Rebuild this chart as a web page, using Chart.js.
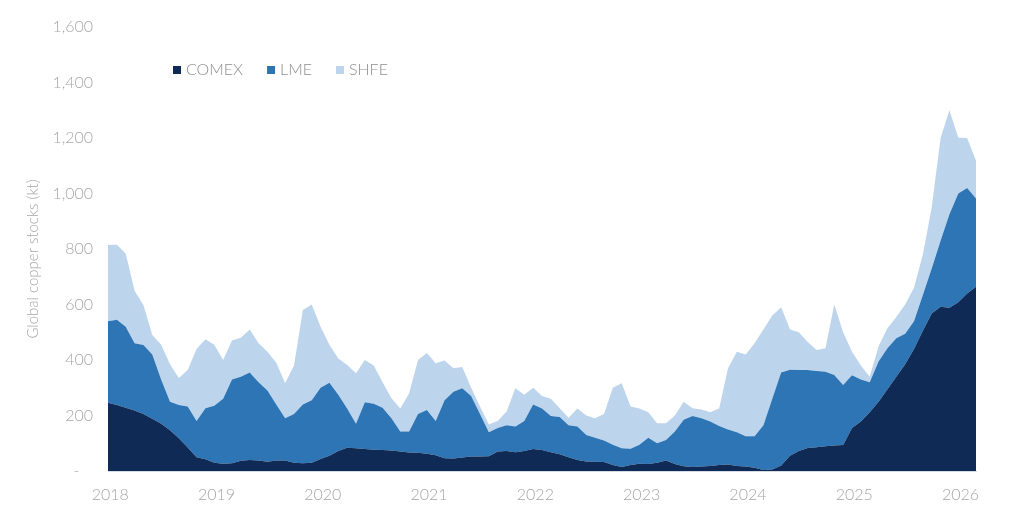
<!DOCTYPE html>
<html><head><meta charset="utf-8">
<script src="https://cdn.jsdelivr.net/npm/chart.js@4.4.1/dist/chart.umd.min.js"></script>
<style>html,body{margin:0;padding:0;background:#fff;} #wrap{width:1024px;height:530px;position:relative;}</style>
</head><body><div id="wrap"><canvas id="c"></canvas></div>
<script>
// Global copper exchange stocks (kt), monthly observations
const seriesNames = ['COMEX', 'LME', 'SHFE'];
const yearLabels = ['2018', '2019', '2020', '2021', '2022', '2023', '2024', '2025', '2026'];
const yAxisTitle = 'Global copper stocks (kt)';
const firstMonth = -0.25; // first observation, in months after Jan 2018

const comex = [246,238,228,218,205,188,170,147,118,85,50,42,30,26,28,37,40,38,33,38,
  38,30,28,30,43,55,72,84,82,79,77,76,74,70,67,66,62,57,46,45,
  49,52,52,53,70,72,68,72,79,76,68,60,50,40,34,33,32,22,14,22,
  26,25,30,38,25,17,14,16,18,22,23,18,16,12,4,5,20,55,72,83,
  86,89,92,94,155,178,212,250,295,340,385,440,505,568,592,588,608,640,664];
const lme = [294,307,292,242,249,232,160,103,120,147,130,184,205,234,302,303,315,282,257,202,
  152,175,212,225,257,263,203,141,88,169,165,152,116,72,75,139,158,123,209,241,
  249,218,153,87,85,93,92,108,161,149,130,135,115,120,96,87,78,73,68,58,
  69,95,70,74,117,168,184,174,160,140,127,122,109,113,161,255,335,310,292,281,
  274,269,254,216,190,152,108,145,147,138,110,100,129,162,238,337,392,380,318];
const shfe = [274,270,264,190,144,70,125,135,97,132,260,249,220,140,140,140,155,140,140,150,
  126,175,340,345,220,137,130,157,182,152,138,92,72,83,138,195,205,208,143,84,
  77,30,27,28,25,49,138,95,60,45,62,31,27,65,70,70,95,205,234,152,
  130,92,72,60,58,65,28,32,34,63,220,290,295,335,345,300,235,145,136,101,
  76,84,254,190,85,50,20,55,72,77,105,120,146,220,370,375,201,180,136];

const colors = ['#0f2b55', '#2e75b6', '#bdd4ed'];
const seriesData = [comex, lme, shfe];

const textGray = '#a6a6a6';
const fontFamily = 'Lato, "Open Sans", "Noto Sans", sans-serif';

const datasets = seriesData.map((arr, i) => ({
  label: seriesNames[i],
  data: arr.map((v, j) => ({ x: firstMonth + j, y: v })),
  backgroundColor: colors[i],
  borderColor: colors[i],
  borderWidth: 0,
  pointRadius: 0,
  tension: 0,
  fill: i === 0 ? 'origin' : '-1'
}));

const legendPlugin = {
  id: 'customLegend',
  afterDraw(chart) {
    const ctx = chart.ctx;
    ctx.save();
    ctx.font = '300 16px ' + fontFamily;
    ctx.textBaseline = 'middle';
    let x = 173; const y = 70;
    seriesNames.forEach((name, i) => {
      ctx.fillStyle = colors[i];
      ctx.fillRect(x, y - 4, 8, 8);
      ctx.fillStyle = '#8e8e8e';
      ctx.fillText(name, x + 13, y);
      x += 13 + ctx.measureText(name).width + 24;
    });
    // y-axis title
    ctx.translate(33, (chart.chartArea.top + chart.chartArea.bottom) / 2 + 10);
    ctx.rotate(-Math.PI / 2);
    ctx.font = '300 15px ' + fontFamily;
    ctx.fillStyle = textGray;
    ctx.textAlign = 'center';
    ctx.fillText(yAxisTitle, 0, 0);
    ctx.restore();
  }
};

new Chart(document.getElementById('c'), {
  type: 'line',
  data: { datasets },
  options: {
    responsive: true,
    maintainAspectRatio: false,
    animation: false,
    devicePixelRatio: 1,
    layout: { padding: { top: 27, right: 48, left: 0, bottom: 0 } },
    plugins: { legend: { display: false }, tooltip: { enabled: false } },
    elements: { line: { borderWidth: 0 } },
    scales: {
      x: {
        type: 'linear',
        min: firstMonth,
        max: firstMonth + comex.length - 1,
        grid: { display: false, drawTicks: false },
        border: { display: true, color: '#d3dbe6', width: 1 },
        afterBuildTicks: s => { s.ticks = yearLabels.map((_, i) => ({ value: i * 12 })); },
        afterFit: s => { s.height = 59; },
        ticks: {
          autoSkip: false, maxRotation: 0, padding: 14,
          color: textGray,
          font: { family: fontFamily, size: 16, weight: '300' },
          callback: v => yearLabels[Math.round(v / 12)]
        }
      },
      y: {
        stacked: true,
        min: 0, max: 1600,
        grid: { display: false, drawTicks: false },
        border: { display: false },
        afterFit: s => { s.width = 108; },
        ticks: {
          stepSize: 200, padding: 15,
          color: textGray,
          font: { family: fontFamily, size: 16, weight: '300' },
          callback: v => v === 0 ? '-\u2007 ' : v.toLocaleString('en-US')
        }
      }
    }
  },
  plugins: [legendPlugin]
});
</script>
</body></html>
